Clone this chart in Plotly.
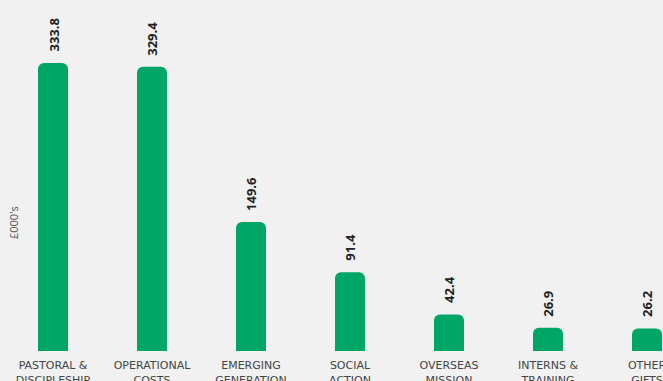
import plotly.graph_objects as go

categories = ["PASTORAL &<br>DISCIPLESHIP", "OPERATIONAL<br>COSTS", "EMERGING<br>GENERATION",
              "SOCIAL<br>ACTION", "OVERSEAS<br>MISSION", "INTERNS &<br>TRAINING", "OTHER<br>GIFTS"]
values = [333.8, 329.4, 149.6, 91.4, 42.4, 26.9, 26.2]
value_labels = ["333.8", "329.4", "149.6", "91.4", "42.4", "26.9", "26.2"]

BG = "#f0f1f0"
GREEN = "#00a665"
W, H = 663, 381
base_y = 351
px_per_unit = 288 / 333.8
pitch = 99
c0 = 53

idx = list(range(len(categories)))

fig = go.Figure(go.Bar(
    x=idx, y=values, width=30 / pitch, marker=dict(color=GREEN, line=dict(width=0)),
    hoverinfo="skip"))

for i, (v, t) in enumerate(zip(values, value_labels)):
    fig.add_annotation(x=i, y=v, text=t, showarrow=False, textangle=-90,
                       xanchor="center", yanchor="bottom", yshift=9,
                       font=dict(family="Open Sans", size=13, color="#222222", weight="bold"))

fig.add_annotation(xref="paper", yref="paper", x=13 / W, y=(base_y - 223) / base_y,
                   text="£000's", showarrow=False, textangle=-90, xanchor="center", yanchor="middle",
                   font=dict(family="Open Sans", size=11, color="#555555"))

fig.update_layout(
    width=W, height=H, margin=dict(l=0, r=0, t=0, b=H - base_y, autoexpand=False),
    paper_bgcolor=BG, plot_bgcolor=BG, showlegend=False, barcornerradius=6,
    xaxis=dict(range=[-c0 / pitch, (W - c0) / pitch], tickvals=idx, ticktext=categories,
               showgrid=False, zeroline=False, showline=False,
               ticks="outside", ticklen=4, tickcolor=BG, automargin=False,
               ticklabeloverflow="allow",
               tickfont=dict(family="DejaVu Sans", size=11, color="#444444")),
    yaxis=dict(range=[0, base_y / px_per_unit], visible=False, automargin=False),
)

fig.write_html("out.html")
